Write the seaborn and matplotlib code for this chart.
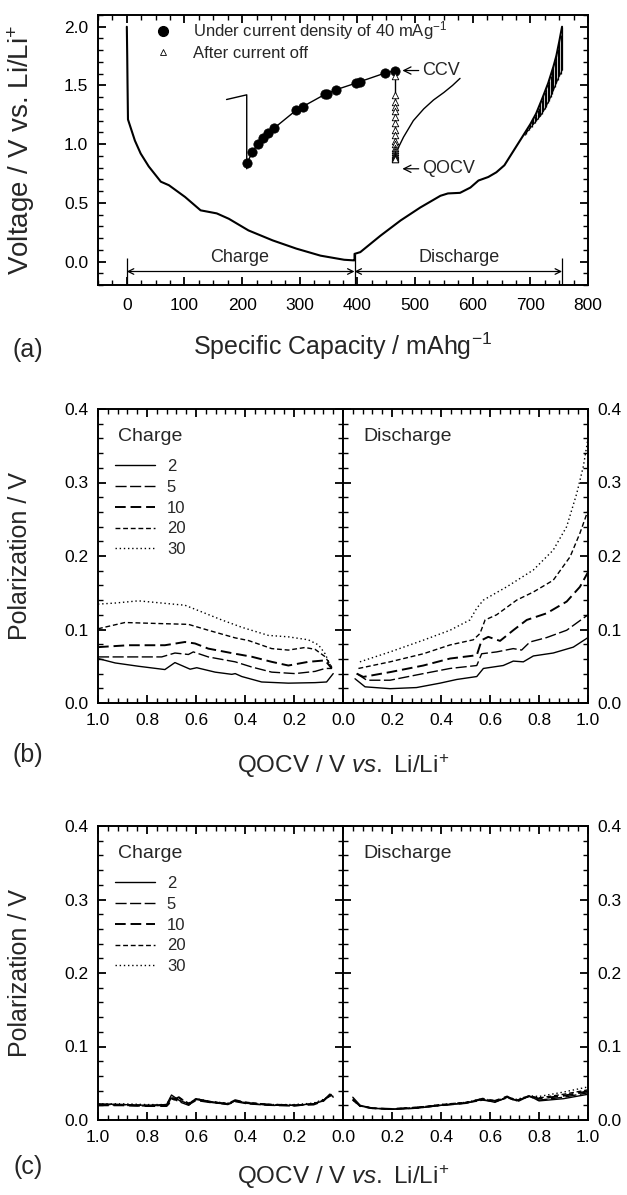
import numpy as np
import pandas as pd
import matplotlib
matplotlib.use("Agg")
import matplotlib.pyplot as plt
import seaborn as sns
from matplotlib.ticker import MultipleLocator
from matplotlib.lines import Line2D

# ---------------- panel (a): GITT voltage profile ----------------
charge_cap = [0, 0.7, 1.2, 2, 14, 24, 38, 59, 73, 101, 128, 156, 177, 211, 253, 294, 336, 377, 393, 395]
charge_v = [2.0, 1.75, 1.52, 1.21, 1.03, 0.92, 0.81, 0.68, 0.65, 0.55, 0.436, 0.41, 0.364, 0.265, 0.18, 0.11, 0.05, 0.015, 0.01, 0.01]
discharge_cap = [395, 405, 440, 475, 509, 544, 557, 578, 596, 610, 627, 641, 655, 682, 700, 710, 720, 731, 740, 745, 750, 755]
discharge_v = [0.065, 0.08, 0.22, 0.35, 0.46, 0.56, 0.58, 0.585, 0.63, 0.69, 0.72, 0.76, 0.82, 1.03, 1.17, 1.26, 1.38, 1.52, 1.66, 1.75, 1.87, 2.0]

# relaxation spikes at the end of discharge
tail_cap = [690, 692.5, 695, 697.5, 700, 702.5, 705, 707.5, 710, 712.5, 715, 717.5, 720, 722.5, 725,
            727.5, 730, 732.5, 735, 737.5, 740, 742.5, 745, 747.5, 750, 752.5, 755]
tail_top = [1.09, 1.11, 1.13, 1.15, 1.17, 1.20, 1.22, 1.24, 1.26, 1.29, 1.31, 1.35, 1.38, 1.41, 1.44,
            1.47, 1.51, 1.54, 1.58, 1.62, 1.66, 1.71, 1.76, 1.81, 1.87, 1.93, 2.0]
tail_bot = [1.08, 1.09, 1.11, 1.12, 1.14, 1.15, 1.17, 1.18, 1.20, 1.21, 1.23, 1.24, 1.26, 1.28, 1.30,
            1.32, 1.35, 1.37, 1.40, 1.43, 1.46, 1.49, 1.52, 1.55, 1.58, 1.60, 1.63]

# inset (one titration step, drawn in the same axes)
stub_cap = [173, 208, 208]
stub_v = [1.38, 1.42, 0.79]
ccv_cap = [209, 218, 227, 236, 244.5, 255, 294, 305, 344, 348, 362, 397, 405, 447, 466]
ccv_v = [0.843, 0.934, 1.0, 1.049, 1.091, 1.134, 1.29, 1.319, 1.425, 1.43, 1.462, 1.519, 1.533, 1.604, 1.627]
relax_v = [1.58, 1.42, 1.36, 1.32, 1.28, 1.23, 1.18, 1.12, 1.08, 1.03, 1.00, 0.97, 0.95,
           0.93, 0.92, 0.91, 0.90, 0.89, 0.885, 0.88, 0.875, 0.87]
relax_cap = [466] * len(relax_v)
next_cap = [468, 472, 480, 497, 515, 532, 550, 565, 578]
next_v = [0.93, 0.98, 1.06, 1.20, 1.30, 1.376, 1.44, 1.50, 1.56]

# ---------------- panel (b): polarization, 40 mA/g ----------------
rates = ["2", "5", "10", "20", "30"]
b_chg_x = {
    "2": [1.0, 0.93, 0.835, 0.727, 0.686, 0.624, 0.597, 0.522, 0.454, 0.44, 0.413, 0.332, 0.223, 0.114, 0.067, 0.04],
    "5": [1.0, 0.876, 0.74, 0.686, 0.631, 0.611, 0.55, 0.44, 0.373, 0.291, 0.196, 0.114, 0.073, 0.046],
    "10": [1.0, 0.876, 0.727, 0.645, 0.604, 0.55, 0.44, 0.373, 0.291, 0.223, 0.142, 0.073, 0.046],
    "20": [1.0, 0.89, 0.74, 0.631, 0.55, 0.44, 0.386, 0.291, 0.223, 0.155, 0.114, 0.073, 0.046],
    "30": [1.0, 0.93, 0.835, 0.74, 0.645, 0.577, 0.495, 0.413, 0.305, 0.223, 0.142, 0.10, 0.073, 0.046],
}
b_chg_y = {
    "2": [0.0605, 0.0545, 0.050, 0.0455, 0.055, 0.046, 0.048, 0.042, 0.039, 0.040, 0.036, 0.0286, 0.027, 0.0277, 0.0286, 0.040],
    "5": [0.0627, 0.0627, 0.0627, 0.068, 0.066, 0.0695, 0.0627, 0.056, 0.049, 0.042, 0.040, 0.043, 0.047, 0.047],
    "10": [0.076, 0.0786, 0.0786, 0.083, 0.081, 0.074, 0.067, 0.063, 0.056, 0.051, 0.056, 0.058, 0.047],
    "20": [0.101, 0.1095, 0.108, 0.107, 0.099, 0.0886, 0.085, 0.074, 0.072, 0.0755, 0.073, 0.063, 0.049],
    "30": [0.1345, 0.136, 0.139, 0.136, 0.133, 0.124, 0.113, 0.103, 0.092, 0.09, 0.086, 0.079, 0.067, 0.047],
}
b_dis_x = {
    "2": [0.049, 0.09, 0.192, 0.30, 0.396, 0.464, 0.546, 0.573, 0.654, 0.695, 0.736, 0.777, 0.858, 0.94, 1.0],
    "5": [0.056, 0.097, 0.192, 0.328, 0.437, 0.546, 0.566, 0.627, 0.695, 0.729, 0.763, 0.831, 0.913, 1.0],
    "10": [0.056, 0.083, 0.192, 0.328, 0.437, 0.546, 0.566, 0.593, 0.641, 0.695, 0.75, 0.831, 0.913, 0.967, 1.0],
    "20": [0.063, 0.192, 0.328, 0.437, 0.532, 0.559, 0.580, 0.627, 0.709, 0.777, 0.858, 0.927, 0.967, 1.0],
    "30": [0.069, 0.192, 0.328, 0.437, 0.518, 0.546, 0.573, 0.668, 0.777, 0.858, 0.913, 0.954, 0.981, 1.0],
}
b_dis_y = {
    "2": [0.033, 0.022, 0.0195, 0.021, 0.027, 0.032, 0.036, 0.047, 0.051, 0.057, 0.056, 0.064, 0.068, 0.076, 0.089],
    "5": [0.040, 0.031, 0.031, 0.040, 0.047, 0.051, 0.067, 0.0695, 0.074, 0.072, 0.083, 0.089, 0.099, 0.12],
    "10": [0.040, 0.0355, 0.042, 0.051, 0.0605, 0.065, 0.0855, 0.09, 0.0845, 0.099, 0.113, 0.122, 0.138, 0.158, 0.178],
    "20": [0.047, 0.056, 0.067, 0.079, 0.086, 0.0945, 0.113, 0.12, 0.14, 0.151, 0.167, 0.199, 0.231, 0.262],
    "30": [0.056, 0.0695, 0.0855, 0.099, 0.113, 0.129, 0.14, 0.158, 0.181, 0.208, 0.24, 0.285, 0.322, 0.36],
}

# ---------------- panel (c): polarization, second electrode ----------------
c_chg_x = [1.0, 0.9, 0.8, 0.72, 0.70, 0.67, 0.63, 0.60, 0.54, 0.47, 0.44, 0.39, 0.30, 0.20, 0.12, 0.08, 0.05, 0.04]
c_chg_y = {
    "2": [0.022, 0.021, 0.020, 0.021, 0.034, 0.027, 0.022, 0.029, 0.025, 0.022, 0.026, 0.023, 0.020, 0.020, 0.022, 0.026, 0.035, 0.031],
    "5": [0.021, 0.020, 0.019, 0.020, 0.030, 0.025, 0.020, 0.028, 0.024, 0.021, 0.025, 0.022, 0.020, 0.019, 0.022, 0.027, 0.034, 0.030],
    "10": [0.020, 0.020, 0.019, 0.019, 0.026, 0.031, 0.021, 0.027, 0.024, 0.022, 0.027, 0.023, 0.021, 0.020, 0.021, 0.026, 0.036, 0.032],
    "20": [0.021, 0.021, 0.020, 0.020, 0.028, 0.030, 0.023, 0.028, 0.025, 0.022, 0.026, 0.024, 0.021, 0.020, 0.022, 0.027, 0.033, 0.031],
    "30": [0.022, 0.022, 0.021, 0.021, 0.032, 0.026, 0.022, 0.029, 0.025, 0.023, 0.026, 0.023, 0.021, 0.021, 0.023, 0.028, 0.034, 0.032],
}
c_dis_x = [0.04, 0.07, 0.12, 0.2, 0.3, 0.4, 0.5, 0.57, 0.62, 0.67, 0.71, 0.76, 0.80, 0.9, 1.0]
c_dis_y = {
    "2": [0.031, 0.020, 0.016, 0.0145, 0.016, 0.020, 0.023, 0.028, 0.024, 0.031, 0.026, 0.033, 0.026, 0.029, 0.035],
    "5": [0.029, 0.019, 0.016, 0.015, 0.016, 0.020, 0.023, 0.027, 0.025, 0.030, 0.027, 0.032, 0.027, 0.031, 0.037],
    "10": [0.028, 0.019, 0.016, 0.015, 0.017, 0.020, 0.023, 0.029, 0.026, 0.032, 0.025, 0.033, 0.029, 0.033, 0.039],
    "20": [0.027, 0.019, 0.016, 0.015, 0.017, 0.021, 0.024, 0.028, 0.025, 0.031, 0.027, 0.032, 0.030, 0.035, 0.041],
    "30": [0.027, 0.019, 0.016, 0.015, 0.017, 0.021, 0.024, 0.029, 0.026, 0.031, 0.028, 0.033, 0.032, 0.038, 0.045],
}

line_dashes = {"2": "", "5": (8, 2.5), "10": (5.5, 2.5), "20": (3.5, 2), "30": (1, 2)}
line_widths = {"2": 1.0, "5": 1.0, "10": 1.4, "20": 1.0, "30": 1.0}

sns.set_style("ticks")
plt.rcParams["font.family"] = ["Liberation Sans", "DejaVu Sans"]
plt.rcParams["mathtext.fontset"] = "custom"
plt.rcParams["mathtext.rm"] = "Liberation Sans"
plt.rcParams["mathtext.it"] = "Liberation Sans:italic"

W, H = 627, 1195
fig = plt.figure(figsize=(W / 100, H / 100), dpi=100)


def box(l, t, r, b):
    return [l / W, 1 - b / H, (r - l) / W, (b - t) / H]


def style(ax, lw=1.4):
    ax.tick_params(which="both", direction="in", top=True, right=True, bottom=True, left=True,
                   labelsize=12.5, colors="black")
    ax.tick_params(which="major", length=6, width=1.3, pad=7)
    ax.tick_params(which="minor", length=3.5, width=1.0)
    for s in ax.spines.values():
        s.set_linewidth(lw)
        s.set_color("black")


# ---------- (a) ----------
ax = fig.add_axes(box(98, 15, 588, 285))
main = pd.DataFrame({"cap": charge_cap + discharge_cap, "v": charge_v + discharge_v})
sns.lineplot(data=main, x="cap", y="v", color="black", lw=1.5, sort=False, estimator=None, ax=ax)
ax.vlines(tail_cap, tail_bot, tail_top, color="black", lw=0.9)
sns.lineplot(x=tail_cap, y=tail_bot, color="black", lw=0.8, sort=False, estimator=None, ax=ax)

sns.lineplot(x=stub_cap, y=stub_v, color="black", lw=1.0, sort=False, estimator=None, ax=ax)
sns.lineplot(x=ccv_cap, y=ccv_v, color="black", lw=1.0, sort=False, estimator=None, ax=ax)
sns.scatterplot(x=ccv_cap, y=ccv_v, color="black", s=45, edgecolor="black", ax=ax, zorder=4)
sns.lineplot(x=relax_cap, y=relax_v, color="black", lw=1.0, sort=False, estimator=None, ax=ax)
sns.scatterplot(x=relax_cap, y=relax_v, marker="^", s=22, facecolor="white",
                edgecolor="black", linewidth=0.6, ax=ax, zorder=4)
sns.lineplot(x=next_cap, y=next_v, color="black", lw=1.0, sort=False, estimator=None, ax=ax)

arr = dict(arrowstyle="->", color="black", lw=0.9, shrinkA=0, shrinkB=0)
ax.annotate("CCV", xy=(478, 1.627), xytext=(512, 1.627), va="center", ha="left",
            fontsize=13, arrowprops=arr)
ax.annotate("QOCV", xy=(478, 0.79), xytext=(512, 0.79), va="center", ha="left",
            fontsize=13, arrowprops=arr)

# charge / discharge range arrows
ax.annotate("", xy=(0, -0.085), xytext=(395, -0.085),
            arrowprops=dict(arrowstyle="<->", color="black", lw=0.9, shrinkA=0, shrinkB=0))
ax.annotate("", xy=(395, -0.085), xytext=(755, -0.085),
            arrowprops=dict(arrowstyle="<->", color="black", lw=0.9, shrinkA=0, shrinkB=0))
ax.vlines([0, 755], -0.2, 0.03, color="black", lw=0.9)
ax.vlines([395], -0.2, 0.065, color="black", lw=0.9)
ax.text(195, 0.03, "Charge", ha="center", va="center", fontsize=13)
ax.text(576, 0.03, "Discharge", ha="center", va="center", fontsize=13)

leg_a = [Line2D([], [], marker="o", color="black", ls="none", markersize=7),
         Line2D([], [], marker="^", mfc="white", mec="black", mew=0.6, ls="none", markersize=5)]
ax.legend(leg_a, ["Under current density of 40 mAg$^{-1}$", "After current off"],
          loc="upper left", bbox_to_anchor=(0.115, 0.985), frameon=False, fontsize=12,
          handlelength=1.0, handletextpad=1.3, labelspacing=0.25, borderpad=0, borderaxespad=0)

ax.set_xlim(-50, 800)
ax.set_ylim(-0.2, 2.1)
ax.xaxis.set_major_locator(MultipleLocator(100))
ax.xaxis.set_minor_locator(MultipleLocator(25))
ax.set_yticks([0.0, 0.5, 1.0, 1.5, 2.0])
ax.set_yticklabels(["0.0", "0.5", "1.0", "1.5", "2.0"])
ax.yaxis.set_minor_locator(MultipleLocator(0.1))
style(ax)
ax.tick_params(axis="x", pad=9)
ax.set_xlabel("")
ax.set_ylabel("Voltage / V vs. Li/Li$^{+}$", fontsize=20)
ax.yaxis.set_label_coords(-0.125, 0.5)
fig.text(343 / W, 1 - 346 / H, "Specific Capacity / mAhg$^{-1}$", ha="center", va="center", fontsize=18)
fig.text(28 / W, 1 - 350 / H, "(a)", ha="center", va="center", fontsize=18)


# ---------- (b) and (c) ----------
def long_df(xs, ys):
    rows = []
    for r in rates:
        x = xs[r] if isinstance(xs, dict) else xs
        for xi, yi in zip(x, ys[r]):
            rows.append((r, xi, yi))
    return pd.DataFrame(rows, columns=["rate", "qocv", "pol"])


def pol_panel(top, bottom, chg_x, chg_y, dis_x, dis_y, tag, xlab_y, tag_y):
    axl = fig.add_axes(box(98, top, 343, bottom))
    axr = fig.add_axes(box(343, top, 588, bottom))
    for a, xs, ys in ((axl, chg_x, chg_y), (axr, dis_x, dis_y)):
        df = long_df(xs, ys)
        for r in rates:
            sub = df[df["rate"] == r]
            sns.lineplot(data=sub, x="qocv", y="pol", color="black", lw=line_widths[r],
                         sort=False, estimator=None, ax=a)
            if line_dashes[r]:
                a.lines[-1].set_dashes(line_dashes[r])
        a.set_ylim(0, 0.4)
        a.set_yticks([0.0, 0.1, 0.2, 0.3, 0.4])
        a.set_yticklabels(["0.0", "0.1", "0.2", "0.3", "0.4"])
        a.yaxis.set_minor_locator(MultipleLocator(0.02))
        a.set_xlabel("")
        a.set_ylabel("")
    axl.set_xlim(1.0, 0.0)
    axl.set_xticks([1.0, 0.8, 0.6, 0.4, 0.2, 0.0])
    axl.set_xticklabels(["1.0", "0.8", "0.6", "0.4", "0.2", ""])
    axr.set_xlim(0.0, 1.0)
    axr.set_xticks([0.0, 0.2, 0.4, 0.6, 0.8, 1.0])
    axr.set_xticklabels(["0.0", "0.2", "0.4", "0.6", "0.8", "1.0"])
    for a in (axl, axr):
        a.xaxis.set_minor_locator(MultipleLocator(0.04))
        style(a)
    axr.tick_params(axis="y", which="both", labelleft=False, labelright=True)
    axl.set_ylabel("Polarization / V", fontsize=18)
    axl.yaxis.set_label_coords(-0.27, 0.5)
    axl.text(0.08, 0.905, "Charge", transform=axl.transAxes, fontsize=14, va="center")
    axr.text(0.085, 0.905, "Discharge", transform=axr.transAxes, fontsize=14, va="center")
    handles = []
    for r in rates:
        h = Line2D([], [], color="black", lw=line_widths[r])
        if line_dashes[r]:
            h.set_dashes(line_dashes[r])
        handles.append(h)
    axl.legend(handles, rates, loc="upper left", bbox_to_anchor=(0.07, 0.83), frameon=False,
               fontsize=12, handlelength=2.4, handletextpad=0.7, labelspacing=0.35,
               borderpad=0, borderaxespad=0)
    fig.text(343 / W, 1 - xlab_y / H, "QOCV / V $\\mathit{vs.}$ Li/Li$^{+}$",
             ha="center", va="center", fontsize=17.5)
    fig.text(28 / W, 1 - tag_y / H, tag, ha="center", va="center", fontsize=18)


pol_panel(409, 703, b_chg_x, b_chg_y, b_dis_x, b_dis_y, "(b)", 766, 755)
pol_panel(826, 1120, c_chg_x, c_chg_y, c_dis_x, c_dis_y, "(c)", 1177, 1167)

fig.savefig("out.png", dpi=100, facecolor="white")
